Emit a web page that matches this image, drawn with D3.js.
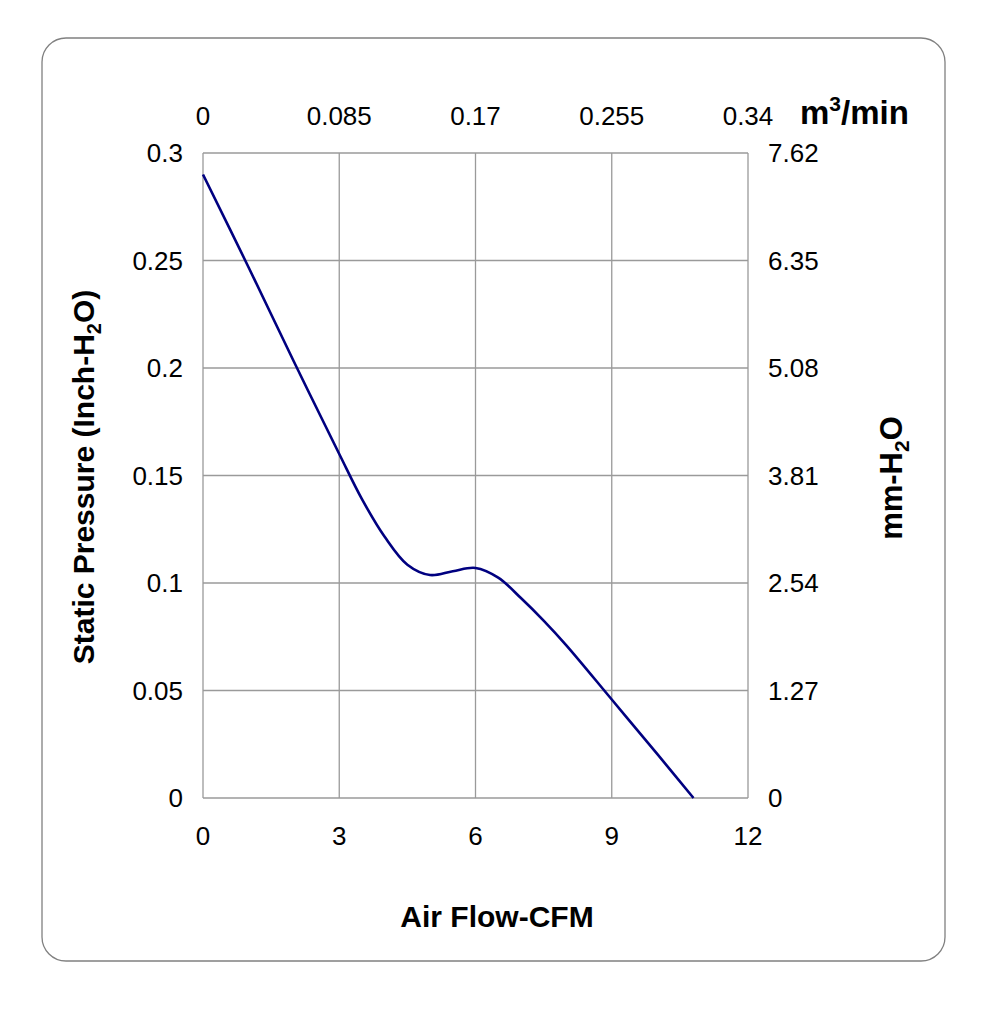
<!DOCTYPE html>
<html>
<head>
<meta charset="utf-8">
<script src="https://cdn.jsdelivr.net/npm/d3@7"></script>
<style>
  body { margin: 0; background: #fff; }
  text { font-family: "Liberation Sans", Arial, sans-serif; fill: #000; }
</style>
</head>
<body>
<div id="chart"></div>
<script>
// valeurs (CFM, inch-H2O)
const flowCFM = [0, 1, 2, 3, 3.5, 4, 4.5, 5, 5.5, 6, 6.5, 7, 7.5, 8, 9, 10, 10.8];
const pressureInch = [0.29, 0.247, 0.203, 0.16, 0.139, 0.1215, 0.1085, 0.1037, 0.1055, 0.107, 0.1025, 0.093, 0.0825, 0.071, 0.0458, 0.0205, 0];

// graduations
const xTicks = [0, 3, 6, 9, 12];
const yTicks = [0, 0.05, 0.1, 0.15, 0.2, 0.25, 0.3];
const topLabels = ["0", "0.085", "0.17", "0.255", "0.34"];
const rightLabels = ["0", "1.27", "2.54", "3.81", "5.08", "6.35", "7.62"];

const width = 1000,
  height = 1009;
const plot = { left: 203, right: 748, top: 153, bottom: 798 };

const svg = d3
  .select("#chart")
  .append("svg")
  .attr("width", width)
  .attr("height", height);

// cadre arrondi
svg
  .append("rect")
  .attr("x", 42)
  .attr("y", 38)
  .attr("width", 903)
  .attr("height", 923)
  .attr("rx", 24)
  .attr("fill", "none")
  .attr("stroke", "#808080")
  .attr("stroke-width", 1.3);

const x = d3.scaleLinear().domain([0, 12]).range([plot.left, plot.right]);
const y = d3.scaleLinear().domain([0, 0.3]).range([plot.bottom, plot.top]);

// grille
svg
  .append("g")
  .selectAll("line")
  .data(xTicks)
  .enter()
  .append("line")
  .attr("x1", (d) => x(d))
  .attr("x2", (d) => x(d))
  .attr("y1", plot.top)
  .attr("y2", plot.bottom)
  .attr("stroke", "#9a9a9a")
  .attr("stroke-width", 1.3);

svg
  .append("g")
  .selectAll("line")
  .data(yTicks)
  .enter()
  .append("line")
  .attr("x1", plot.left)
  .attr("x2", plot.right)
  .attr("y1", (d) => y(d))
  .attr("y2", (d) => y(d))
  .attr("stroke", "#9a9a9a")
  .attr("stroke-width", 1.3);

// axes (labels seulement)
const tickFont = 26;

svg
  .append("g")
  .selectAll("text")
  .data(xTicks)
  .enter()
  .append("text")
  .attr("x", (d) => x(d))
  .attr("y", 845)
  .attr("text-anchor", "middle")
  .style("font-size", tickFont + "px")
  .text((d) => d);

svg
  .append("g")
  .selectAll("text")
  .data(xTicks)
  .enter()
  .append("text")
  .attr("x", (d) => x(d))
  .attr("y", 125)
  .attr("text-anchor", "middle")
  .style("font-size", tickFont + "px")
  .text((d, i) => topLabels[i]);

svg
  .append("g")
  .selectAll("text")
  .data(yTicks)
  .enter()
  .append("text")
  .attr("x", 183)
  .attr("y", (d) => y(d))
  .attr("dy", "0.36em")
  .attr("text-anchor", "end")
  .style("font-size", tickFont + "px")
  .text((d) => d);

svg
  .append("g")
  .selectAll("text")
  .data(yTicks)
  .enter()
  .append("text")
  .attr("x", 768)
  .attr("y", (d) => y(d))
  .attr("dy", "0.36em")
  .attr("text-anchor", "start")
  .style("font-size", tickFont + "px")
  .text((d, i) => rightLabels[i]);

// courbe
const points = flowCFM.map((d, i) => [d, pressureInch[i]]);
const line = d3
  .line()
  .x((d) => x(d[0]))
  .y((d) => y(d[1]))
  .curve(d3.curveCatmullRom.alpha(0.5));

svg
  .append("path")
  .datum(points)
  .attr("d", line)
  .attr("fill", "none")
  .attr("stroke", "#000080")
  .attr("stroke-width", 2.6);

// titres
const titleFont = 30;

svg
  .append("text")
  .attr("x", 497)
  .attr("y", 927)
  .attr("text-anchor", "middle")
  .style("font-size", titleFont + "px")
  .style("font-weight", "bold")
  .text("Air Flow-CFM");

const unitTop = svg
  .append("text")
  .attr("x", 800)
  .attr("y", 124)
  .style("font-size", "33px")
  .style("font-weight", "bold");
unitTop.append("tspan").text("m");
unitTop.append("tspan").attr("dy", -13).style("font-size", "21px").text("3");
unitTop.append("tspan").attr("dy", 13).text("/min");

const yTitle = svg
  .append("text")
  .attr("transform", "translate(94,477) rotate(-90)")
  .attr("text-anchor", "middle")
  .style("font-size", titleFont + "px")
  .style("font-weight", "bold");
yTitle.append("tspan").text("Static Pressure (Inch-H");
yTitle.append("tspan").attr("dy", 7).style("font-size", "20px").text("2");
yTitle.append("tspan").attr("dy", -7).text("O)");

const y2Title = svg
  .append("text")
  .attr("transform", "translate(902,478) rotate(-90)")
  .attr("text-anchor", "middle")
  .style("font-size", "31px")
  .style("font-weight", "bold");
y2Title.append("tspan").text("mm-H");
y2Title.append("tspan").attr("dy", 7).style("font-size", "21px").text("2");
y2Title.append("tspan").attr("dy", -7).text("O");
</script>
</body>
</html>
